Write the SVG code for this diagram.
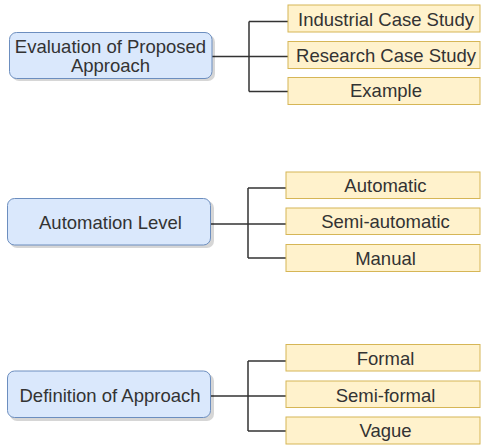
<svg xmlns="http://www.w3.org/2000/svg" width="481" height="447" viewBox="0 0 481 447">
<style>
.main{fill:#dae8fc;stroke:#6c8ebf;stroke-width:1}
.shadow{fill:#000;opacity:0.16}
.leaf{fill:#fff2cc;stroke:#d6b656;stroke-width:1}
.edge{fill:none;stroke:#333333;stroke-width:1.5}
text{font-family:"Liberation Sans",Arial,sans-serif;font-size:18.5px;fill:#333333;text-anchor:middle}
</style>
<rect width="481" height="447" fill="#ffffff"/>
<g id="connectors">
<path class="edge" d="M212 56.5H249M249 21.5V91.5M249 21.5H288M249 56.5H288M249 91.5H288"/>
<path class="edge" d="M211 224H248M248 188V258M248 188H286M248 224H286M248 258H286"/>
<path class="edge" d="M211 396H248M248 361V431M248 361H286M248 396H286M248 431H286"/>
</g>
<g id="n-eval">
<rect class="shadow" x="12" y="35" width="203" height="46" rx="7"/>
<rect class="main" x="9.5" y="32.5" width="202.5" height="46" rx="7"/>
<text x="110.5" y="53">Evaluation of Proposed</text>
<text x="110.5" y="72">Approach</text>
</g>
<g id="n-industrial">
<rect class="leaf" x="288" y="5" width="192" height="27"/>
<text x="386" y="26">Industrial Case Study</text>
</g>
<g id="n-research">
<rect class="leaf" x="288" y="41.5" width="192" height="27"/>
<text x="386" y="62">Research Case Study</text>
</g>
<g id="n-example">
<rect class="leaf" x="288" y="77.5" width="192" height="27"/>
<text x="386" y="97">Example</text>
</g>
<g id="n-automation">
<rect class="shadow" x="10" y="201" width="204" height="47" rx="7"/>
<rect class="main" x="7.5" y="198.5" width="203" height="46.5" rx="7"/>
<text x="110.5" y="229">Automation Level</text>
</g>
<g id="n-automatic">
<rect class="leaf" x="286" y="172" width="194" height="26.5"/>
<text x="385.5" y="192.3">Automatic</text>
</g>
<g id="n-semiauto">
<rect class="leaf" x="286" y="208" width="194" height="26.5"/>
<text x="385.5" y="228.3">Semi-automatic</text>
</g>
<g id="n-manual">
<rect class="leaf" x="286" y="244.5" width="194" height="27"/>
<text x="385.5" y="265">Manual</text>
</g>
<g id="n-definition">
<rect class="shadow" x="10" y="374" width="204" height="47" rx="7"/>
<rect class="main" x="7.5" y="371" width="203" height="46.5" rx="7"/>
<text x="110" y="401.7">Definition of Approach</text>
</g>
<g id="n-formal">
<rect class="leaf" x="286" y="344.5" width="194" height="26.5"/>
<text x="385.5" y="365">Formal</text>
</g>
<g id="n-semiformal">
<rect class="leaf" x="286" y="381" width="194" height="26.5"/>
<text x="385.5" y="401.7">Semi-formal</text>
</g>
<g id="n-vague">
<rect class="leaf" x="286" y="417" width="194" height="27"/>
<text x="385.5" y="437.3">Vague</text>
</g>
</svg>
